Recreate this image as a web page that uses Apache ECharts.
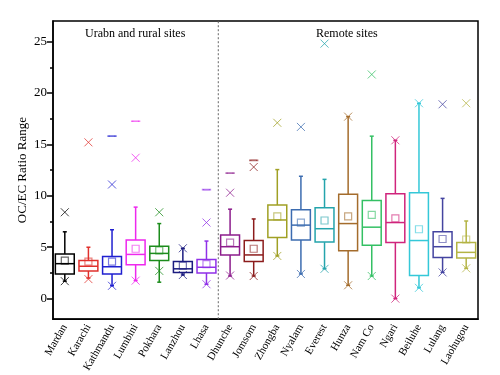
<!DOCTYPE html>
<html>
<head>
<meta charset="utf-8">
<script src="https://cdn.jsdelivr.net/npm/echarts@6/dist/echarts.min.js"></script>
<style>
  html, body { margin: 0; padding: 0; background: #fff; }
  #chart { width: 500px; height: 375px; }
</style>
</head>
<body>
<div id="chart"></div>
<script>
  // sites
  var categories = ['Mardan', 'Karachi', 'Kathmandu', 'Lumbini', 'Pokhara', 'Lanzhou', 'Lhasa',
    'Dhunche', 'Jomsom', 'Zhongba', 'Nyalam', 'Everest', 'Hunza', 'Nam Co', 'Ngari', 'Beiluhe', 'Lulang', 'Laohugou']
  // box statistics
  var whiskerLow  = [1.7, 2.0, 1.25, 1.75, 1.6, 2.3, 1.4, 2.2, 2.2, 4.15, 2.4, 2.9, 1.3, 2.2, 0.0, 1.05, 2.55, 2.95]
  var q1          = [2.4, 2.7, 2.4, 3.3, 3.7, 2.55, 2.5, 4.25, 3.6, 5.95, 5.7, 5.5, 4.65, 5.2, 5.45, 2.25, 4.0, 3.95]
  var median      = [3.4, 3.15, 3.1, 4.3, 4.4, 2.9, 3.05, 5.05, 4.25, 7.65, 7.15, 6.8, 7.3, 6.95, 7.4, 5.65, 5.05, 4.5]
  var q3          = [4.35, 3.7, 4.1, 5.7, 5.1, 3.6, 3.8, 6.2, 5.65, 9.1, 8.65, 8.85, 10.15, 9.55, 10.2, 10.3, 6.5, 5.45]
  var whiskerHigh = [6.5, 5.0, 6.7, 8.9, 7.3, 4.9, 5.6, 8.7, 7.75, 12.55, 11.9, 11.6, 17.7, 15.8, 15.4, 19.0, 9.75, 7.55]
  var meanVals    = [3.7, 3.6, 3.6, 4.85, 4.7, 3.2, 3.35, 5.45, 4.85, 8.0, 7.4, 7.6, 8.0, 8.15, 7.8, 6.75, 5.8, 5.75]
  var crossLow    = [1.7, 1.9, 1.25, 1.75, 2.7, 2.3, 1.4, 2.25, 2.2, 4.15, 2.4, 2.9, 1.3, 2.2, 0.0, 1.05, 2.55, 2.95]
  var crossHigh   = [8.4, 15.2, 11.1, 13.7, 8.4, 4.9, 7.4, 10.3, 12.8, 17.1, 16.7, 24.8, 17.7, 21.8, 15.4, 19.0, 18.9, 19.0]
  var maxDash     = [null, null, 15.8, 17.25, null, null, 10.6, 12.2, 13.45, null, null, null, null, null, null, null, null, null]
  var yTicks = [0, 5, 10, 15, 20, 25]
  var yMinorTicks = [2.5, 7.5, 12.5, 17.5, 22.5]

  var colors = ['#000000', '#e0302c', '#2020d0', '#ee28ee', '#1c8c1c', '#1c1c80', '#9030e8',
    '#8c1c8c', '#8c1c1c', '#a0a024', '#3c6cb0', '#24a4ac', '#a46c2c', '#34c064', '#d0247c', '#34c8d8', '#4444a0', '#b4b444']

  var font = 'Liberation Serif'
  var chart = echarts.init(document.getElementById('chart'))

  var boxData = categories.map(function (c, i) {
    return [i, whiskerLow[i], q1[i], median[i], q3[i], whiskerHigh[i]]
  })
  var pointItems = function (vals, filled) {
    var out = []
    vals.forEach(function (v, i) {
      if (v === null) return
      var st = { borderColor: colors[i] }
      if (filled) st.color = colors[i]
      out.push({ value: [i, v], itemStyle: st })
    })
    return out
  }

  function renderBox(params, api) {
    var i = api.value(0)
    var c = colors[i]
    var x = api.coord([i, 0])[0]
    var bw = api.size([1, 0])[0] * 0.8
    var yWl = api.coord([i, api.value(1)])[1]
    var yQ1 = api.coord([i, api.value(2)])[1]
    var yMed = api.coord([i, api.value(3)])[1]
    var yQ3 = api.coord([i, api.value(4)])[1]
    var yWh = api.coord([i, api.value(5)])[1]
    var st = { stroke: c, lineWidth: 1.5, fill: null }
    return {
      type: 'group',
      children: [
        { type: 'line', shape: { x1: x, y1: yQ3, x2: x, y2: yWh }, style: st },
        { type: 'line', shape: { x1: x, y1: yQ1, x2: x, y2: yWl }, style: st },
        { type: 'line', shape: { x1: x - 2, y1: yWh, x2: x + 2, y2: yWh }, style: st },
        { type: 'line', shape: { x1: x - 2, y1: yWl, x2: x + 2, y2: yWl }, style: st },
        { type: 'rect', shape: { x: x - bw / 2, y: yQ3, width: bw, height: yQ1 - yQ3 }, style: { stroke: c, lineWidth: 1.5, fill: '#fff' } },
        { type: 'line', shape: { x1: x - bw / 2, y1: yMed, x2: x + bw / 2, y2: yMed }, style: st }
      ]
    }
  }

  chart.setOption({
    animation: false,
    grid: {
      left: 53, right: 22, top: 21, bottom: 53,
      show: true, borderColor: '#000', borderWidth: 1.5
    },
    graphic: [
      { type: 'text', left: 85, top: 28, style: { text: 'Urabn and rural sites', font: '12px "' + font + '"', fill: '#000' } },
      { type: 'text', left: 316, top: 28, style: { text: 'Remote sites', font: '12px "' + font + '"', fill: '#000' } }
    ],
    xAxis: [{
      type: 'category',
      data: categories,
      boundaryGap: true,
      axisLine: { onZero: false, lineStyle: { color: '#000', width: 1.5 } },
      axisTick: { alignWithLabel: true, length: 6, lineStyle: { color: '#000', width: 1.5 } },
      axisLabel: { rotate: 60, fontFamily: font, fontSize: 11, color: '#000', margin: 6, interval: 0 },
      splitLine: { show: false }
    }, {
      type: 'value',
      min: -0.5, max: 17.5,
      show: false
    }],
    yAxis: [{
      type: 'value',
      min: -2, max: 27,
      name: 'OC/EC Ratio Range',
      nameLocation: 'middle',
      nameGap: 24,
      nameMoveOverlap: false,
      nameTextStyle: { fontFamily: font, fontSize: 13, color: '#000' },
      axisLine: { show: true, onZero: false, lineStyle: { color: '#000', width: 1.5 } },
      axisTick: { show: true, length: 6, customValues: yTicks, lineStyle: { color: '#000', width: 1.5 } },
      axisLabel: { customValues: yTicks, fontFamily: font, fontSize: 13, color: '#000', margin: 6 },
      splitLine: { show: false }
    }, {
      type: 'value',
      min: -2, max: 27,
      position: 'left',
      axisLine: { show: false, onZero: false },
      axisTick: { show: true, length: 3, customValues: yMinorTicks, lineStyle: { color: '#000', width: 1.5 } },
      axisLabel: { show: false },
      splitLine: { show: false }
    }],
    series: [{
      type: 'line',
      xAxisIndex: 1,
      data: [[6.5, -2], [6.5, 27]],
      symbol: 'none',
      lineStyle: { color: '#666', width: 1, type: [2, 2] },
      silent: true
    }, {
      type: 'custom',
      renderItem: renderBox,
      data: boxData,
      encode: { x: 0, y: [1, 2, 3, 4, 5] },
      z: 3
    }, {
      type: 'scatter',
      data: pointItems(meanVals, false),
      symbol: 'path://M0,0L10,0L10,10L0,10Z',
      symbolSize: 7,
      itemStyle: { color: 'none', borderWidth: 1.2, opacity: 0.6 },
      z: 4
    }, {
      type: 'scatter',
      data: pointItems(crossLow, false).concat(pointItems(crossHigh, false)),
      symbol: 'path://M0,0L10,10M10,0L0,10',
      symbolSize: 8,
      itemStyle: { color: 'none', borderWidth: 1, opacity: 0.75 },
      z: 4
    }, {
      type: 'scatter',
      data: pointItems(maxDash, true),
      symbol: 'rect',
      symbolSize: [7, 1.3],
      itemStyle: { opacity: 0.6 },
      z: 4
    }]
  })
</script>
</body>
</html>
